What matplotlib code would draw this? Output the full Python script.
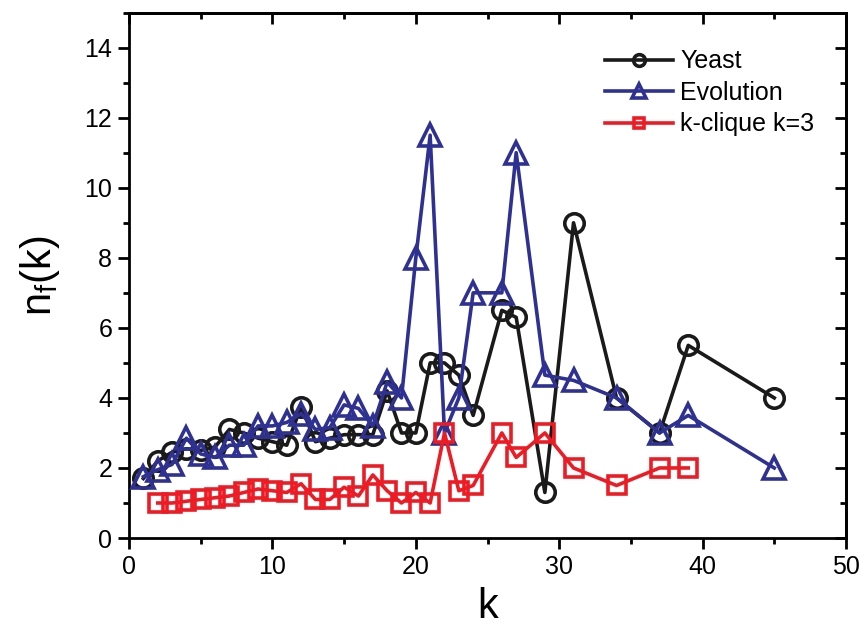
import numpy as np
import matplotlib
matplotlib.use("Agg")
import matplotlib.pyplot as plt
from matplotlib.ticker import MultipleLocator

plt.rcParams['font.family'] = ['Liberation Sans Narrow', 'Liberation Sans', 'DejaVu Sans']
plt.rcParams['mathtext.default'] = 'regular'

# degree k vs n_f(k) for the three networks
k_yeast = [1, 2, 3, 4, 5, 6, 7, 8, 9, 10, 11, 12, 13, 14, 15, 16, 17, 18, 19, 20,
           21, 22, 23, 24, 26, 27, 29, 31, 34, 37, 39, 45]
nf_yeast = [1.7, 2.2, 2.45, 2.55, 2.5, 2.6, 3.1, 3.0, 2.85, 2.75, 2.65, 3.75, 2.75, 2.85,
            2.95, 2.95, 2.95, 4.2, 3.0, 3.0, 5.0, 5.0, 4.65, 3.5, 6.5, 6.3, 1.3, 9.0,
            4.0, 3.0, 5.5, 4.0]

k_evo = [1, 2, 3, 4, 5, 6, 7, 8, 9, 10, 11, 12, 13, 14, 15, 16, 17, 18, 19, 20,
         21, 22, 23, 24, 26, 27, 29, 31, 34, 37, 39, 45]
nf_evo = [1.75, 1.95, 2.1, 2.85, 2.4, 2.3, 2.65, 2.65, 3.2, 3.2, 3.3, 3.55, 3.1, 3.15,
          3.8, 3.7, 3.2, 4.45, 4.0, 8.0, 11.5, 3.0, 4.0, 7.0, 7.0, 11.0, 4.65, 4.5,
          4.0, 3.0, 3.5, 2.0]

k_clique = [2, 3, 4, 5, 6, 7, 8, 9, 10, 11, 12, 13, 14, 15, 16, 17, 18, 19, 20, 21,
            22, 23, 24, 26, 27, 29, 31, 34, 37, 39]
nf_clique = [1.0, 1.0, 1.05, 1.1, 1.15, 1.2, 1.3, 1.4, 1.35, 1.3, 1.55, 1.1, 1.1, 1.45,
             1.2, 1.8, 1.35, 1.0, 1.3, 1.0, 3.0, 1.35, 1.5, 3.0, 2.3, 3.0, 2.0, 1.5,
             2.0, 2.0]

fig = plt.figure(figsize=(8.62, 6.3), dpi=100)
ax = fig.add_axes([0.1497, 0.146, 0.8317, 0.834])

lw = 2.6
mew = 2.6
ax.plot(k_yeast, nf_yeast, '-o', color='#1a1a1a', lw=lw, ms=14, mew=mew,
        mfc='none', label='Yeast', zorder=3)
ax.plot(k_evo, nf_evo, '-^', color='#2e3192', lw=lw, ms=16, mew=mew,
        mfc='none', label='Evolution', zorder=4)
ax.plot(k_clique, nf_clique, '-s', color='#ed1c24', lw=lw, ms=13, mew=mew,
        mfc='none', label='k-clique k=3', zorder=5)

ax.set_xlim(0, 50)
ax.set_ylim(0, 15)
ax.xaxis.set_major_locator(MultipleLocator(10))
ax.xaxis.set_minor_locator(MultipleLocator(5))
ax.yaxis.set_minor_locator(MultipleLocator(1))
ax.set_yticks(np.arange(0, 15, 2))

for sp in ax.spines.values():
    sp.set_linewidth(2.0)
ax.tick_params(which='major', direction='out', length=8, width=2, labelsize=18, pad=4)
ax.tick_params(which='minor', direction='out', length=4.5, width=2)

# mirrored inward ticks on top and right
top = ax.secondary_xaxis('top')
top.xaxis.set_major_locator(MultipleLocator(10))
top.xaxis.set_minor_locator(MultipleLocator(5))
top.tick_params(which='major', direction='in', length=8, width=2, labeltop=False)
top.tick_params(which='minor', direction='in', length=4.5, width=2)
top.spines['top'].set_linewidth(2.0)
right = ax.secondary_yaxis('right')
right.yaxis.set_major_locator(MultipleLocator(2))
right.yaxis.set_minor_locator(MultipleLocator(1))
right.tick_params(which='major', direction='in', length=8, width=2, labelright=False)
right.tick_params(which='minor', direction='in', length=4.5, width=2)
right.spines['right'].set_linewidth(2.0)

ax.set_xlabel('k', fontsize=30, labelpad=6)
ax.set_ylabel(r'n$_f$(k)', fontsize=30, labelpad=16)

ax.legend(loc='upper left', bbox_to_anchor=(0.664, 0.93), frameon=False,
          fontsize=18, handlelength=2.7, handletextpad=0.3, labelspacing=0.3,
          markerscale=0.6, borderpad=0, borderaxespad=0)

fig.savefig('out.png', dpi=100)
